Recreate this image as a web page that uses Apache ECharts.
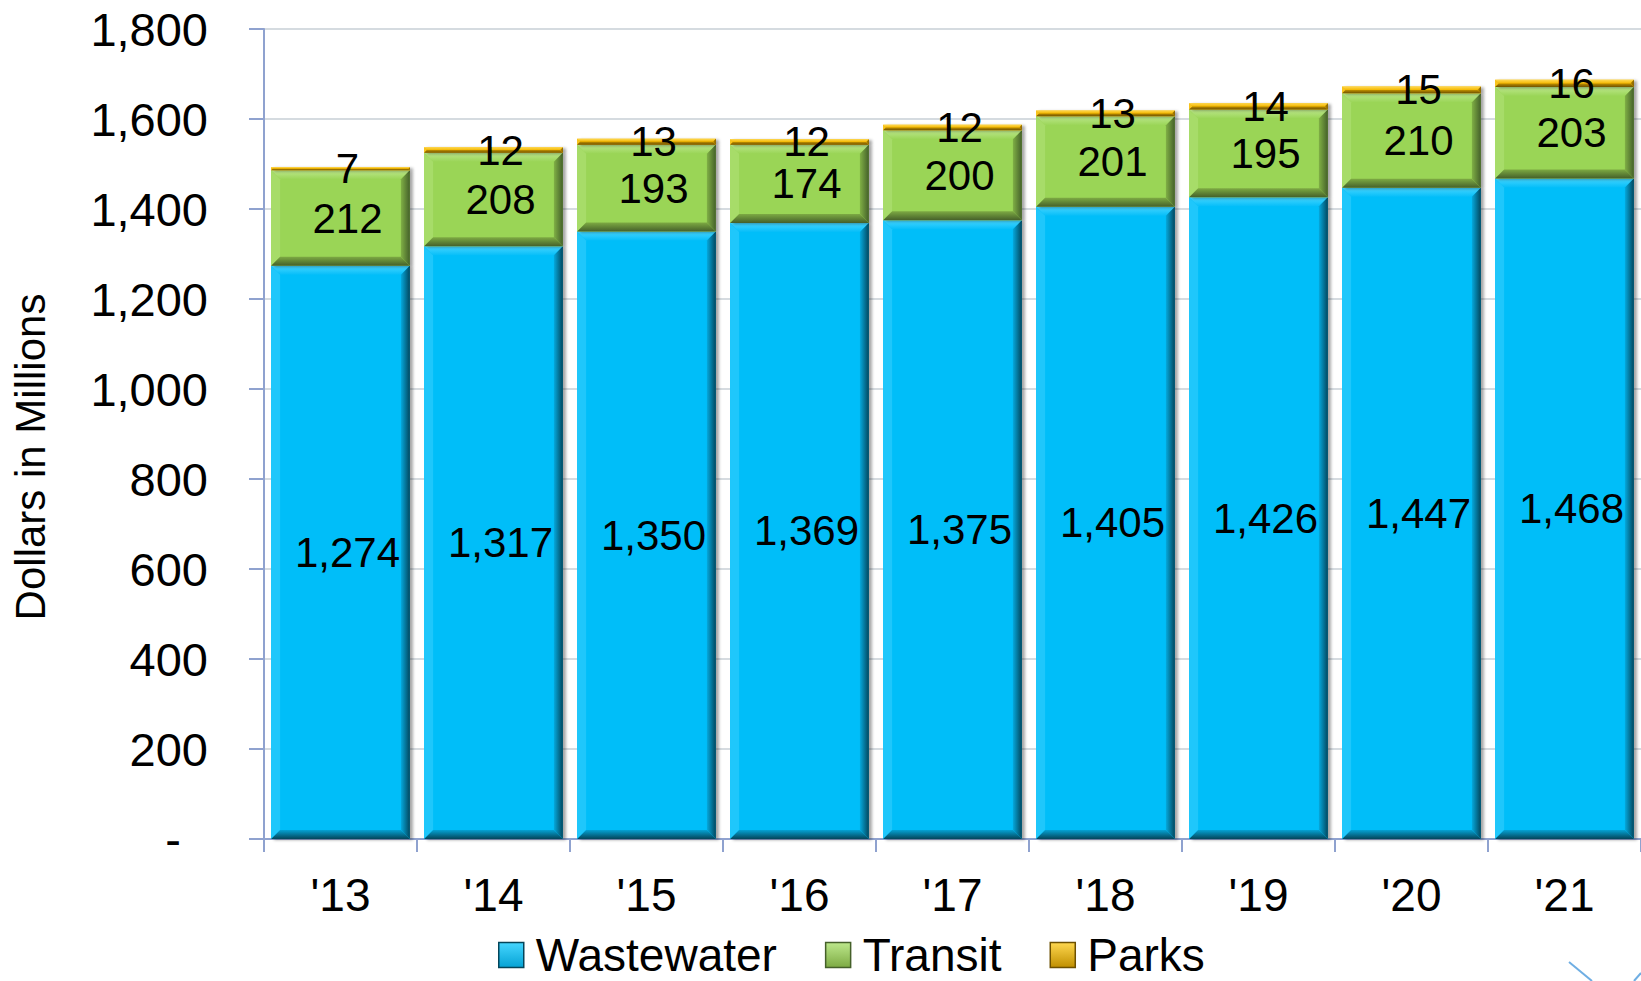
<!DOCTYPE html>
<html>
<head>
<meta charset="utf-8">
<title>Dollars in Millions</title>
<script src="https://cdn.jsdelivr.net/npm/echarts@6/dist/echarts.min.js"></script>
<style>
  html, body { margin: 0; padding: 0; background: #ffffff; }
  #chart { width: 1641px; height: 981px; }
</style>
</head>
<body>
<div id="chart"></div>
<script>
// Fiscal years on the category axis
const years = ["'13", "'14", "'15", "'16", "'17", "'18", "'19", "'20", "'21"];

// Stacked components, dollars in millions
const wastewater = [1274, 1317, 1350, 1369, 1375, 1405, 1426, 1447, 1468];
const transit    = [212, 208, 193, 174, 200, 201, 195, 210, 203];
const parks      = [7, 12, 13, 12, 12, 13, 14, 15, 16];

const seriesNames = ['Wastewater', 'Transit', 'Parks'];
const yMax = 1800;
const yStep = 200;

const FONT = '"Liberation Sans", Arial, Helvetica, sans-serif';

// Bevel palettes: face, top band, left band, right band (light->dark), bottom band (light->dark)
const palettes = [
  { face: '#06BEF9', top: '#46D6FF', left: '#1FC7FB', right: ['#05A9DD', '#03475E'], bottom: ['#05A2D4', '#04455A'] },
  { face: '#9AD557', top: '#BDE88C', left: '#A7DC69', right: ['#80B045', '#44602A'], bottom: ['#7DAA43', '#45602A'] },
  { face: '#F3B700', top: '#FFD850', left: '#F8C41E', right: ['#C89600', '#7A5A00'], bottom: ['#C08F00', '#6E5100'] }
];

// Build [category, base, top, value] rows so each segment sits on the ones below it
function stackRows(values, below) {
  return values.map((v, i) => {
    const base = below.reduce((s, arr) => s + arr[i], 0);
    return [i, base, base + v, v];
  });
}
const rows = [
  stackRows(wastewater, []),
  stackRows(transit, [wastewater]),
  stackRows(parks, [wastewater, transit])
];

function grad(horizontal, stops) {
  return {
    type: 'linear', x: 0, y: 0, x2: horizontal ? 1 : 0, y2: horizontal ? 0 : 1,
    colorStops: [{ offset: 0, color: stops[0] }, { offset: 1, color: stops[1] }]
  };
}

function makeRenderer(pal) {
  return function (params, api) {
    const cat = api.value(0);
    const lo = api.value(1);
    const hi = api.value(2);
    const val = api.value(3);
    const pLo = api.coord([cat, lo]);
    const pHi = api.coord([cat, hi]);
    const band = api.size([1, 0])[0];
    const w = band * 0.907;
    const L = pLo[0] - w / 2, R = L + w;
    const T = pHi[1], B = pLo[1];
    const h = B - T;
    const b = Math.min(9, h / 2, w / 2);
    const children = [
      { type: 'rect', shape: { x: L, y: T, width: w, height: h },
        style: { fill: pal.face, shadowColor: 'rgba(0,0,0,0.35)', shadowBlur: 3, shadowOffsetX: 3, shadowOffsetY: 1 } },
      { type: 'polygon', shape: { points: [[L, T], [R, T], [R - b, T + b], [L + b, T + b]] },
        style: { fill: grad(false, [pal.top, pal.face]) } },
      { type: 'polygon', shape: { points: [[L, T], [L + b, T + b], [L + b, B - b], [L, B]] },
        style: { fill: pal.left } },
      { type: 'polygon', shape: { points: [[R, T], [R, B], [R - b, B - b], [R - b, T + b]] },
        style: { fill: grad(true, pal.right) } },
      { type: 'polygon', shape: { points: [[L, B], [R, B], [R - b, B - b], [L + b, B - b]] },
        style: { fill: grad(false, pal.bottom) } },
      { type: 'text', z2: 50,
        style: { text: val.toLocaleString('en-US'), x: (L + R) / 2 + 7, y: (T + B) / 2,
                 align: 'center', verticalAlign: 'middle',
                 font: '42px ' + FONT, fill: '#000000' } }
    ];
    return { type: 'group', children: children };
  };
}

const chart = echarts.init(document.getElementById('chart'), null, { renderer: 'svg' });

const axisBlue = '#8FA2CF';

chart.setOption({
  backgroundColor: '#ffffff',
  animation: false,
  color: palettes.map(p => p.face),
  textStyle: { fontFamily: FONT },
  grid: { left: 264, top: 29, width: 1380, height: 810, containLabel: false },
  legend: {
    left: 498,
    top: 932,
    padding: 0,
    itemWidth: 25,
    itemHeight: 25,
    itemGap: 48,
    icon: 'rect',
    selectedMode: false,
    textStyle: { fontSize: 46, color: '#000000', fontFamily: FONT, padding: [0, 0, 0, 7], lineHeight: 44 },
    data: seriesNames.map((n, i) => ({
      name: n,
      itemStyle: {
        color: grad(false, [palettes[i].top, palettes[i].bottom[0]]),
        borderColor: palettes[i].bottom[1],
        borderWidth: 1.5
      }
    }))
  },
  xAxis: {
    type: 'category',
    data: years,
    axisLine: { show: true, lineStyle: { color: axisBlue, width: 2 } },
    axisTick: { show: true, length: 13, lineStyle: { color: axisBlue, width: 2 } },
    axisLabel: { fontSize: 46, color: '#000000', margin: 33, fontFamily: FONT },
    splitLine: { show: false }
  },
  yAxis: {
    type: 'value',
    min: 0,
    max: yMax,
    interval: yStep,
    axisLine: { show: true, lineStyle: { color: axisBlue, width: 2 } },
    axisTick: { show: true, length: 15, lineStyle: { color: axisBlue, width: 2 } },
    splitLine: { show: true, lineStyle: { color: '#D5DBE0', width: 2 } },
    axisLabel: {
      fontSize: 47, color: '#000000', margin: 56, fontFamily: FONT,
      formatter: v => v === 0 ? '{d|-}' : v.toLocaleString('en-US'),
      rich: { d: { fontSize: 47, color: '#000000', fontFamily: FONT, padding: [0, 27, 0, 0] } }
    }
  },
  graphic: [
    // vertical axis title
    { type: 'text', x: 30, y: 457, rotation: Math.PI / 2,
      style: { text: 'Dollars in Millions', font: '42px ' + FONT, fill: '#000000',
               align: 'center', verticalAlign: 'middle' } },
    { type: 'line', shape: { x1: 1569, y1: 962, x2: 1592, y2: 981 },
      style: { stroke: '#6FAEE3', lineWidth: 2 } },
    { type: 'line', shape: { x1: 1634, y1: 981, x2: 1641, y2: 973 },
      style: { stroke: '#6FAEE3', lineWidth: 2 } }
  ],
  series: seriesNames.map((n, i) => ({
    name: n,
    type: 'custom',
    renderItem: makeRenderer(palettes[i]),
    encode: { x: 0, y: [1, 2] },
    itemStyle: { color: palettes[i].face },
    data: rows[i],
    z: 2 + i
  }))
});
</script>
</body>
</html>
